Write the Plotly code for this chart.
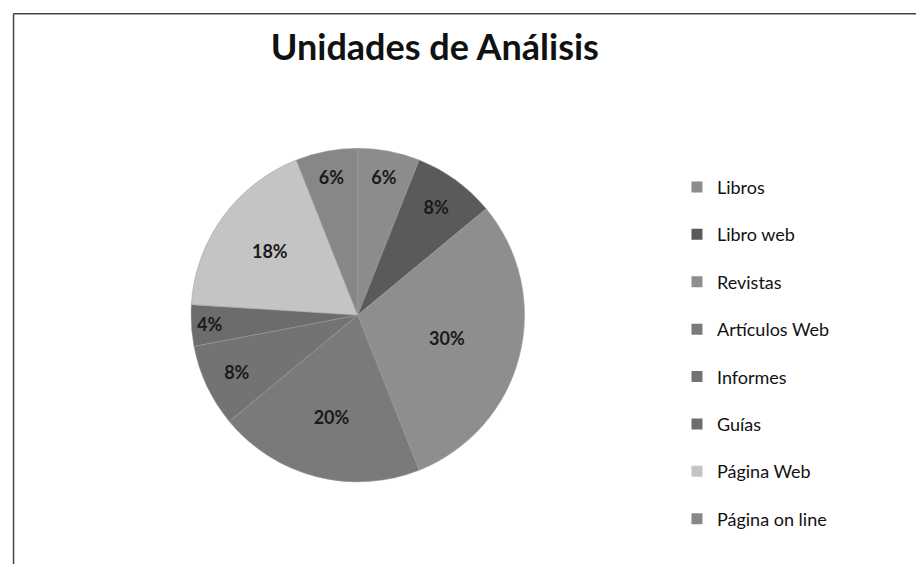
import plotly.graph_objects as go

labels = ['Libros', 'Libro web', 'Revistas', 'Artículos Web', 'Informes', 'Guías', 'Página Web', 'Página on line']
values = [6, 8, 30, 20, 8, 4, 18, 6]
colors = ['#8c8c8c', '#5a5a5a', '#8e8e8e', '#7a7a7a', '#737373', '#6c6c6c', '#c4c4c4', '#878787']

fig = go.Figure()

fig.add_trace(go.Pie(
    labels=labels,
    values=values,
    sort=False,
    direction='clockwise',
    rotation=0,
    marker=dict(colors=colors, line=dict(color='#9a9a9a', width=0.5)),
    textinfo='percent',
    texttemplate='<b>%{percent:.0%}</b>',
    textposition='inside',
    insidetextorientation='horizontal',
    textfont=dict(family='Lato', size=18, color='#1a1a1a'),
    domain=dict(x=[0.198, 0.559], y=[0.159, 0.752]),
    showlegend=False,
    hoverinfo='label+percent',
))

# legend entries drawn as separate groups so the spacing can match
for name, color in zip(labels, colors):
    fig.add_trace(go.Scatter(
        x=[None], y=[None],
        mode='markers',
        marker=dict(symbol='square', size=11, color=color),
        name=name,
        legendgroup=name,
    ))

fig.update_layout(
    width=924,
    height=564,
    paper_bgcolor='white',
    plot_bgcolor='white',
    margin=dict(l=0, r=0, t=0, b=0),
    title=dict(
        text='<b>Unidades de Análisis</b>',
        x=0.462, xanchor='center',
        y=0.931, yanchor='middle',
        font=dict(family='Lato', size=36, color='#111111'),
    ),
    xaxis=dict(visible=False),
    yaxis=dict(visible=False),
    legend=dict(
        x=0.724, xanchor='left',
        y=0.715, yanchor='top',
        font=dict(family='Lato', size=18, color='#111111'),
        tracegroupgap=21,
        itemwidth=30,
        bgcolor='rgba(0,0,0,0)',
    ),
    showlegend=True,
)

fig.add_shape(type='line', xref='paper', yref='paper', x0=0.006, x1=1.0, y0=0.99, y1=0.99,
              line=dict(color='#444444', width=1.5))
fig.add_shape(type='line', xref='paper', yref='paper', x0=0.006, x1=0.006, y0=0.0, y1=0.99,
              line=dict(color='#444444', width=1.5))

fig.write_html("out.html")
